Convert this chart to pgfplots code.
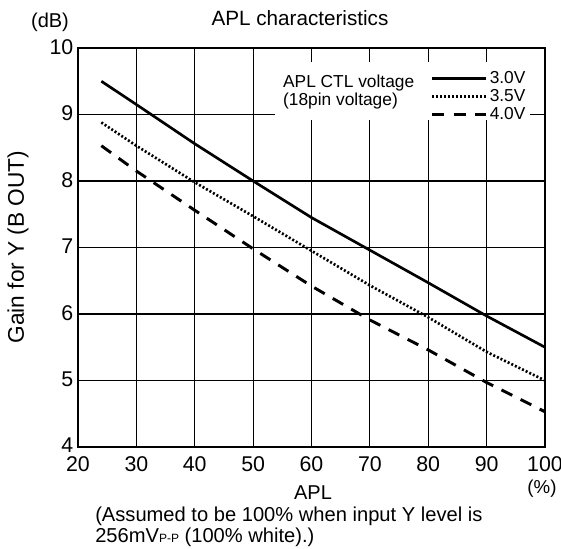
\documentclass[border=0pt]{standalone}
\usepackage{fontspec}
\setmainfont{Liberation Sans}
\usepackage{pgfplots}
\pgfplotsset{compat=1.18}
\begin{document}
\begin{tikzpicture}[x=1pt,y=1pt]
\begin{axis}[
  at={(0,0)}, anchor=south west,
  scale only axis, width=350.25pt, height=299.25pt,
  xmin=20, xmax=100, ymin=4, ymax=10,
  xtick={20,30,...,100}, ytick={4,5,...,10},
  grid=major, major grid style={black, line width=0.9pt},
  axis line style={line width=1.5pt},
  major tick length=0pt,
  tick label style={font=\fontsize{16}{18}\selectfont},
  xticklabel style={yshift=-4pt},
  yticklabel style={yshift=1pt},
  /pgf/number format/assume math mode=true,
  legend style={at={(rel axis cs:0.755,0.948)}, anchor=north west, draw=none, fill=none,
    font=\fontsize{13}{13}\selectfont, row sep=-1pt, inner sep=0pt, nodes={inner sep=2pt}},
  legend cell align=left,
  legend image code/.code={\draw[#1] (0pt,0pt) -- (40pt,0pt);},
]
\fill[white] (axis cs:53.7,9.79) rectangle (axis cs:97.4,8.92);
\addplot[black, line width=2pt] coordinates {
(24,9.5) (30,9.15) (40,8.56) (50,8.0) (60,7.45) (70,6.96) (80,6.47) (90,5.97) (100,5.5)};
\addlegendentry{3.0V}
\addplot[black, line width=2pt, dash pattern=on 1.5pt off 1.5pt] coordinates {
(24,8.88) (30,8.53) (40,7.98) (50,7.47) (60,6.95) (70,6.43) (80,5.95) (90,5.43) (100,5.0)};
\addlegendentry{3.5V}
\addplot[black, line width=2.2pt, dash pattern=on 9pt off 7pt] coordinates {
(24,8.53) (30,8.15) (40,7.56) (50,6.98) (60,6.42) (70,5.91) (80,5.46) (90,4.97) (100,4.53)};
\addlegendentry{4.0V}
\node[anchor=west, font=\fontsize{13}{13}\selectfont, inner sep=0pt] at (axis cs:55.1,9.48) {APL CTL voltage};
\node[anchor=west, font=\fontsize{13}{13}\selectfont, inner sep=0pt] at (axis cs:55.1,9.21) {(18pin voltage)};
\end{axis}
\node[font=\fontsize{15.5}{15.5}\selectfont] at (166.5,321.75) {APL characteristics};
\node[font=\fontsize{15}{15}\selectfont] at (-21,318.75) {(dB)};
\node[rotate=90, font=\fontsize{17}{17}\selectfont] at (-45,150) {Gain for Y (B OUT)};
\node[font=\fontsize{15}{15}\selectfont] at (176.25,-34.5) {APL};
\node[font=\fontsize{14}{14}\selectfont] at (348,-31) {(\%)};
\node[anchor=west, inner sep=0pt, font=\fontsize{15.1}{15.1}\selectfont] at (12.75,-51.75) {(Assumed to be 100\% when input Y level is};
\node[anchor=west, inner sep=0pt, font=\fontsize{15.1}{15.1}\selectfont] at (12.75,-67.5) {256mV{\fontsize{9}{9}\selectfont P-P} (100\% white).)};
\pgfresetboundingbox
\path (-58.5,-76.5) rectangle (362.25,335.25);
\end{tikzpicture}
\end{document}
